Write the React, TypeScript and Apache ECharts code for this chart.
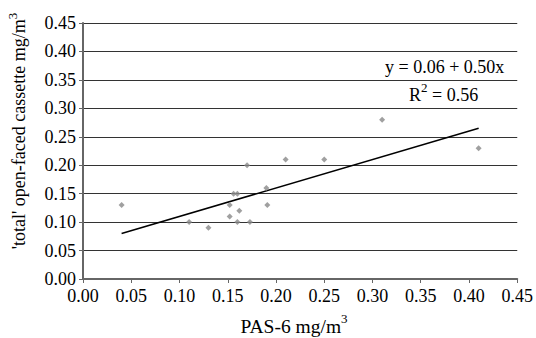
import React, { useEffect, useRef } from "react";
import * as echarts from "echarts";

const pasX = [0.04, 0.11, 0.13, 0.152, 0.152, 0.156, 0.16, 0.162, 0.16, 0.173, 0.17, 0.19, 0.191, 0.21, 0.25, 0.31, 0.41];
const totalY = [0.13, 0.10, 0.09, 0.11, 0.13, 0.15, 0.15, 0.12, 0.10, 0.10, 0.20, 0.16, 0.13, 0.21, 0.21, 0.28, 0.23];
const fitIntercept = 0.06;
const fitSlope = 0.5;
const fitRange = [0.04, 0.41];
const tickLabels = ["0.00", "0.05", "0.10", "0.15", "0.20", "0.25", "0.30", "0.35", "0.40", "0.45"];
const xTitle = "PAS-6 mg/m{sup|3}";
const yTitle = "'total' open-faced cassette mg/m{sup|3}";
const eqText = "y = 0.06 + 0.50x";
const r2Text = "R{sup|2} = 0.56";

const FONT = "'Liberation Serif', 'Times New Roman', serif";

export default function App() {
  const ref = useRef<HTMLDivElement>(null);
  useEffect(() => {
    if (!ref.current) return;
    const chart = echarts.init(ref.current, undefined, { renderer: "svg" });
    const points = pasX.map((x, i) => [x, totalY[i]]);
    const fit = fitRange.map((x) => [x, fitIntercept + fitSlope * x]);
    const fmt = (v: number) => tickLabels[Math.round(v / 0.05)] ?? v.toFixed(2);
    const supStyle = { fontSize: 13, verticalAlign: "top", lineHeight: 2, fontFamily: FONT, fill: "#000" };
    chart.setOption({
      animation: false,
      backgroundColor: "#ffffff",
      textStyle: { fontFamily: FONT },
      grid: { left: 83, right: 16, top: 23, bottom: 59, containLabel: false },
      xAxis: {
        type: "value",
        min: 0,
        max: 0.45,
        interval: 0.05,
        axisLine: { show: true, lineStyle: { color: "#666", width: 2 } },
        axisTick: { show: true, length: 4, lineStyle: { color: "#666" } },
        axisLabel: { formatter: fmt, fontFamily: FONT, fontSize: 18, color: "#000", margin: 8 },
        splitLine: { show: false },
      },
      yAxis: {
        type: "value",
        min: 0,
        max: 0.45,
        interval: 0.05,
        axisLine: { show: true, lineStyle: { color: "#666", width: 2 } },
        axisTick: { show: true, length: 4, lineStyle: { color: "#666" } },
        axisLabel: { formatter: fmt, fontFamily: FONT, fontSize: 18, color: "#000", margin: 7 },
        splitLine: { show: true, lineStyle: { color: "#333", width: 1 } },
      },
      series: [
        {
          type: "scatter",
          data: points,
          symbol: "diamond",
          symbolSize: 6,
          itemStyle: { color: "#888" },
          z: 3,
        },
        {
          type: "line",
          data: fit,
          symbol: "none",
          lineStyle: { color: "#000", width: 1.5 },
          z: 2,
        },
      ],
      graphic: [
        {
          type: "text",
          x: 294,
          y: 326,
          style: {
            text: xTitle,
            font: `19.5px ${FONT}`,
            lineHeight: 28,
            fill: "#000",
            align: "center",
            verticalAlign: "middle",
            rich: { sup: supStyle },
          },
        },
        {
          type: "text",
          x: 19,
          y: 131,
          rotation: Math.PI / 2,
          style: {
            text: yTitle,
            font: `18px ${FONT}`,
            lineHeight: 27,
            fill: "#000",
            align: "center",
            verticalAlign: "middle",
            rich: { sup: supStyle },
          },
        },
        {
          type: "text",
          x: 385,
          y: 67,
          z: 10,
          style: { text: eqText, font: `18px ${FONT}`, fill: "#000", align: "left", verticalAlign: "middle" },
        },
        {
          type: "text",
          x: 409,
          y: 95,
          z: 10,
          style: {
            text: r2Text,
            font: `18px ${FONT}`,
            lineHeight: 28,
            fill: "#000",
            align: "left",
            verticalAlign: "middle",
            rich: { sup: supStyle },
          },
        },
      ],
    });
    return () => chart.dispose();
  }, []);
  return <div ref={ref} style={{ position: "fixed", left: 0, top: 0, width: 536, height: 338 }} />;
}
